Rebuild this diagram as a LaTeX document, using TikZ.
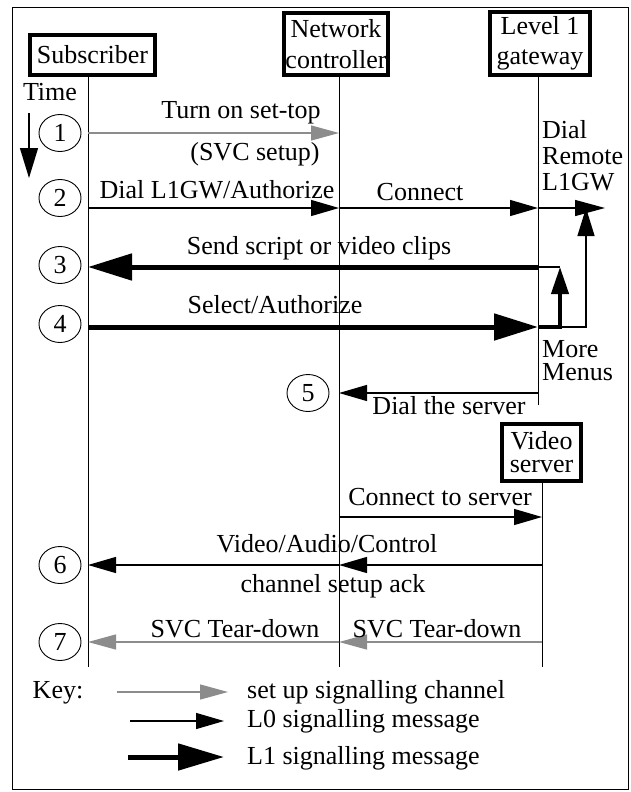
\documentclass[tikz,border=0pt]{standalone}
\usepackage{fontspec}
\setmainfont{Liberation Serif}
\usetikzlibrary{arrows.meta,shapes.geometric}
\definecolor{sigGray}{HTML}{8C8C8C}
\begin{document}
\begin{tikzpicture}[x=1pt,y=-1pt,
  txt/.style={font=\fontsize{26}{26}\selectfont, inner sep=0pt, anchor=base},
  ltxt/.style={font=\fontsize{26}{26}\selectfont, inner sep=0pt, anchor=base west},
  actor/.style={draw, line width=4pt, inner sep=0pt, align=center},
  num/.style={draw, ellipse, line width=0.9pt, minimum width=42pt, minimum height=37pt, inner sep=0pt, font=\fontsize{26}{26}\selectfont},
  life/.style={line width=1pt},
  sig/.style={line width=1.3pt, -{Triangle[length=28pt,width=16pt]}},
  setupsig/.style={line width=1.3pt, draw=sigGray, -{Triangle[length=28pt,width=15pt]}},
  lone/.style={line width=5pt, -{Triangle[length=44pt,width=26pt]}},
]
\useasboundingbox (0,0) rectangle (631,792);
\draw[line width=1pt] (12,8) rectangle (628,789);

% actors
\node[actor, minimum width=125pt, minimum height=40pt, font=\fontsize{26}{30}\selectfont] (sub) at (92.5,55) {Subscriber};
\node[actor, minimum width=104pt, minimum height=62pt, font=\fontsize{26}{31}\selectfont] (nc) at (336,44) {Network\\controller};
\node[actor, minimum width=100pt, minimum height=63pt, font=\fontsize{26}{30}\selectfont] (gw) at (540,43.5) {Level 1\\gateway};
\node[actor, minimum width=79pt, minimum height=57pt, font=\fontsize{26}{23}\selectfont] (vs) at (541.5,452.5) {Video\\server};

% lifeline x positions and rows
\coordinate (xs) at (88,0);
\coordinate (xn) at (339,0);
\coordinate (xg) at (538,0);
\coordinate (xv) at (542,0);
\coordinate (xb) at (560,0);
\coordinate (xr) at (586,0);
\coordinate (xd) at (605,0);
\coordinate (top) at (0,77);
\coordinate (endg) at (0,405);
\coordinate (bot) at (0,667);
\coordinate (r1) at (0,133);
\coordinate (r2) at (0,208);
\coordinate (r3) at (0,267);
\coordinate (r4) at (0,327);
\coordinate (r5) at (0,393);
\coordinate (rc) at (0,517);
\coordinate (r6) at (0,565);
\coordinate (r7) at (0,642);

% lifelines
\draw[life] (xs|-top) -- (xs|-bot);
\draw[life] (xn|-top) -- (xn|-bot);
\draw[life] (xg|-top) -- (xg|-endg);
\draw[life] (xv|-vs.south) -- (xv|-bot);

% time
\node[txt] (time) at (50,100) {Time};
\coordinate (ta) at (29,113);
\coordinate (tb) at (29,178);
\draw[line width=1.3pt, -{Triangle[length=30pt,width=18pt]}] (ta) -- (tb);

% step numbers
\node[num] (n1) at (60,133) {1};
\node[num] (n2) at (60,198) {2};
\node[num] (n3) at (60,265) {3};
\node[num] (n4) at (60,324) {4};
\node[num] (n5) at (308,393) {5};
\node[num] (n6) at (60,565) {6};
\node[num] (n7) at (60,642) {7};

% 1
\draw[setupsig] (xs|-r1) -- (xn|-r1);
\node[txt] (l1a) at (241,118) {Turn on set-top};
\node[txt] (l1b) at (255,160) {(SVC setup)};

% 2
\draw[sig] (xs|-r2) -- (xn|-r2);
\draw[sig] (xn|-r2) -- (xg|-r2);
\draw[sig, -{Triangle[length=30pt,width=16pt]}] (xg|-r2) -- (xd|-r2);
\node[txt] (l2a) at (217,198) {Dial L1GW/Authorize};
\node[txt] (l2b) at (420,200) {Connect};
\node[ltxt] (dr1) at (542,138) {Dial};
\node[ltxt] (dr2) at (542,164) {Remote};
\node[ltxt] (dr3) at (542,190) {L1GW};

% 3
\draw[lone] (xg|-r3) -- (xs|-r3);
\draw[line width=1.3pt] (xg|-r3) -- (xb|-r3);
\node[txt] (l3) at (319,254) {Send script or video clips};

% 4
\draw[lone] (xs|-r4) -- (xg|-r4);
\draw[line width=4pt, -{Triangle[length=27pt,width=17pt]}] (xg|-r4) -- (xb|-r4) -- (xb|-r3);
\draw[sig, -{Triangle[length=28pt,width=17pt]}] (xb|-r4) -| (xr|-r2);
\node[txt] (l4) at (275,313) {Select/Authorize};
\node[ltxt] (mm1) at (542,357) {More};
\node[ltxt] (mm2) at (542,380) {Menus};

% 5
\draw[sig] (xg|-r5) -- (xn|-r5);
\node[txt] (l5) at (449,414) {Dial the server};

% connect to server
\draw[sig] (xn|-rc) -- (xv|-rc);
\node[txt] (lc) at (440,505) {Connect to server};

% 6
\draw[sig] (xv|-r6) -- (xn|-r6);
\draw[sig] (xn|-r6) -- (xs|-r6);
\node[txt] (l6a) at (327,552) {Video/Audio/Control};
\node[txt] (l6b) at (333,592) {channel setup ack};

% 7
\draw[setupsig] (xv|-r7) -- (xn|-r7);
\draw[setupsig] (xn|-r7) -- (xs|-r7);
\node[txt] (l7a) at (235,637) {SVC Tear-down};
\node[txt] (l7b) at (437,637) {SVC Tear-down};

% key
\node[txt] (key) at (58,698) {Key:};
\coordinate (k1a) at (117,692);
\coordinate (k1b) at (228,692);
\coordinate (k2a) at (130,721);
\coordinate (k2b) at (224,721);
\coordinate (k3a) at (128,757);
\coordinate (k3b) at (224,757);
\draw[setupsig] (k1a) -- (k1b);
\draw[sig] (k2a) -- (k2b);
\draw[lone, -{Triangle[length=46pt,width=26pt]}] (k3a) -- (k3b);
\node[ltxt] (kt1) at (247,698) {set up signalling channel};
\node[ltxt] (kt2) at (247,727) {L0 signalling message};
\node[ltxt] (kt3) at (247,764) {L1 signalling message};
\end{tikzpicture}
\end{document}
